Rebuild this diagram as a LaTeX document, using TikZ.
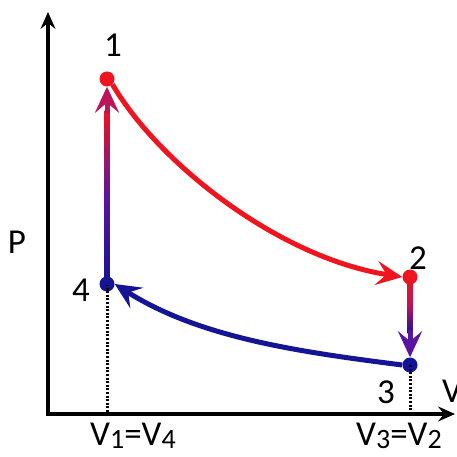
\documentclass[tikz,border=0pt]{standalone}
\usepackage{fontspec}
\setmainfont{Carlito}
\usetikzlibrary{arrows.meta,calc}
\definecolor{pred}{RGB}{240,20,30}
\definecolor{pblue}{RGB}{20,20,150}
\definecolor{pmag}{RGB}{190,20,90}
\definecolor{pvio}{RGB}{90,20,160}
\begin{document}
\begin{tikzpicture}[x=1pt,y=-1pt,
  dot/.style={circle,inner sep=0pt,minimum size=15pt},
  lbl/.style={font=\fontsize{35}{37}\selectfont,inner sep=0pt},
  axis/.style={line width=3.5pt,-{Stealth[length=17pt,width=15pt,inset=6pt]}},
  path/.style={line width=5pt,-{Stealth[length=26pt,width=24pt,inset=10pt]}},
  guide/.style={line width=3pt,dash pattern=on 2pt off 1.6pt}]
\useasboundingbox (0,0) rectangle (456,457);
\fill[white] (0,0) rectangle (456,457);
% axes
\coordinate (o) at (48,414);
\coordinate (ytip) at (48,12);
\coordinate (xtip) at (455,414);
\draw[axis] (o) -- (ytip);
\draw[axis] ($(o)+(-1.75,0)$) -- (xtip);
% state points
\node[dot,fill=pred] (p1) at (107,79) {};
\node[dot,fill=pred] (p2) at (410,277) {};
\node[dot,fill=pblue] (p3) at (410,365) {};
\node[dot,fill=pblue] (p4) at (107,284) {};
% dotted guides
\coordinate (f4) at (107,414);
\coordinate (f3) at (410,414);
\draw[guide] (p4.center) -- (f4);
\draw[guide] (p3.center) -- (f3);
% 1 -> 2
\draw[path,pred] (p1.south east) .. controls (160,165) and (280,258) .. (p2.west);
% 3 -> 4
\draw[path,pblue] (p3.west) .. controls (300,352) and (200,338) .. (p4.east);
% 4 -> 1 (gradient)
\shade[bottom color=pblue,top color=pred,middle color=pvio] ($(p4.center)+(-2.5,0)$) rectangle ($(p1.south)+(2.5,24)$);
\draw[line width=5pt,-{Stealth[length=26pt,width=24pt,inset=10pt]},pmag] ($(p1.south)+(0,27)$) -- (p1.south);
% 2 -> 3 (gradient)
\shade[top color=pred,bottom color=pblue,middle color=pmag] ($(p2.center)+(-2.5,0)$) rectangle ($(p3.north)+(2.5,-24)$);
\draw[line width=5pt,-{Stealth[length=26pt,width=24pt,inset=10pt]},pvio] ($(p3.north)+(0,-27)$) -- (p3.north);
% labels
\node[lbl] (l1) at (113,45) {1};
\node[lbl] (l2) at (418,258) {2};
\node[lbl] (l3) at (386,392) {3};
\node[lbl] (l4) at (81,290) {4};
\node[lbl] (lp) at (17,242) {P};
\node[lbl,anchor=west] (lv) at (442,391) {V};
\node[lbl] (lv14) at (133,436) {V\raisebox{-3pt}{\fontsize{28}{30}\selectfont 1}=V\raisebox{-3pt}{\fontsize{28}{30}\selectfont 4}};
\node[lbl] (lv32) at (399,436) {V\raisebox{-3pt}{\fontsize{28}{30}\selectfont 3}=V\raisebox{-3pt}{\fontsize{28}{30}\selectfont 2}};
\end{tikzpicture}
\end{document}
